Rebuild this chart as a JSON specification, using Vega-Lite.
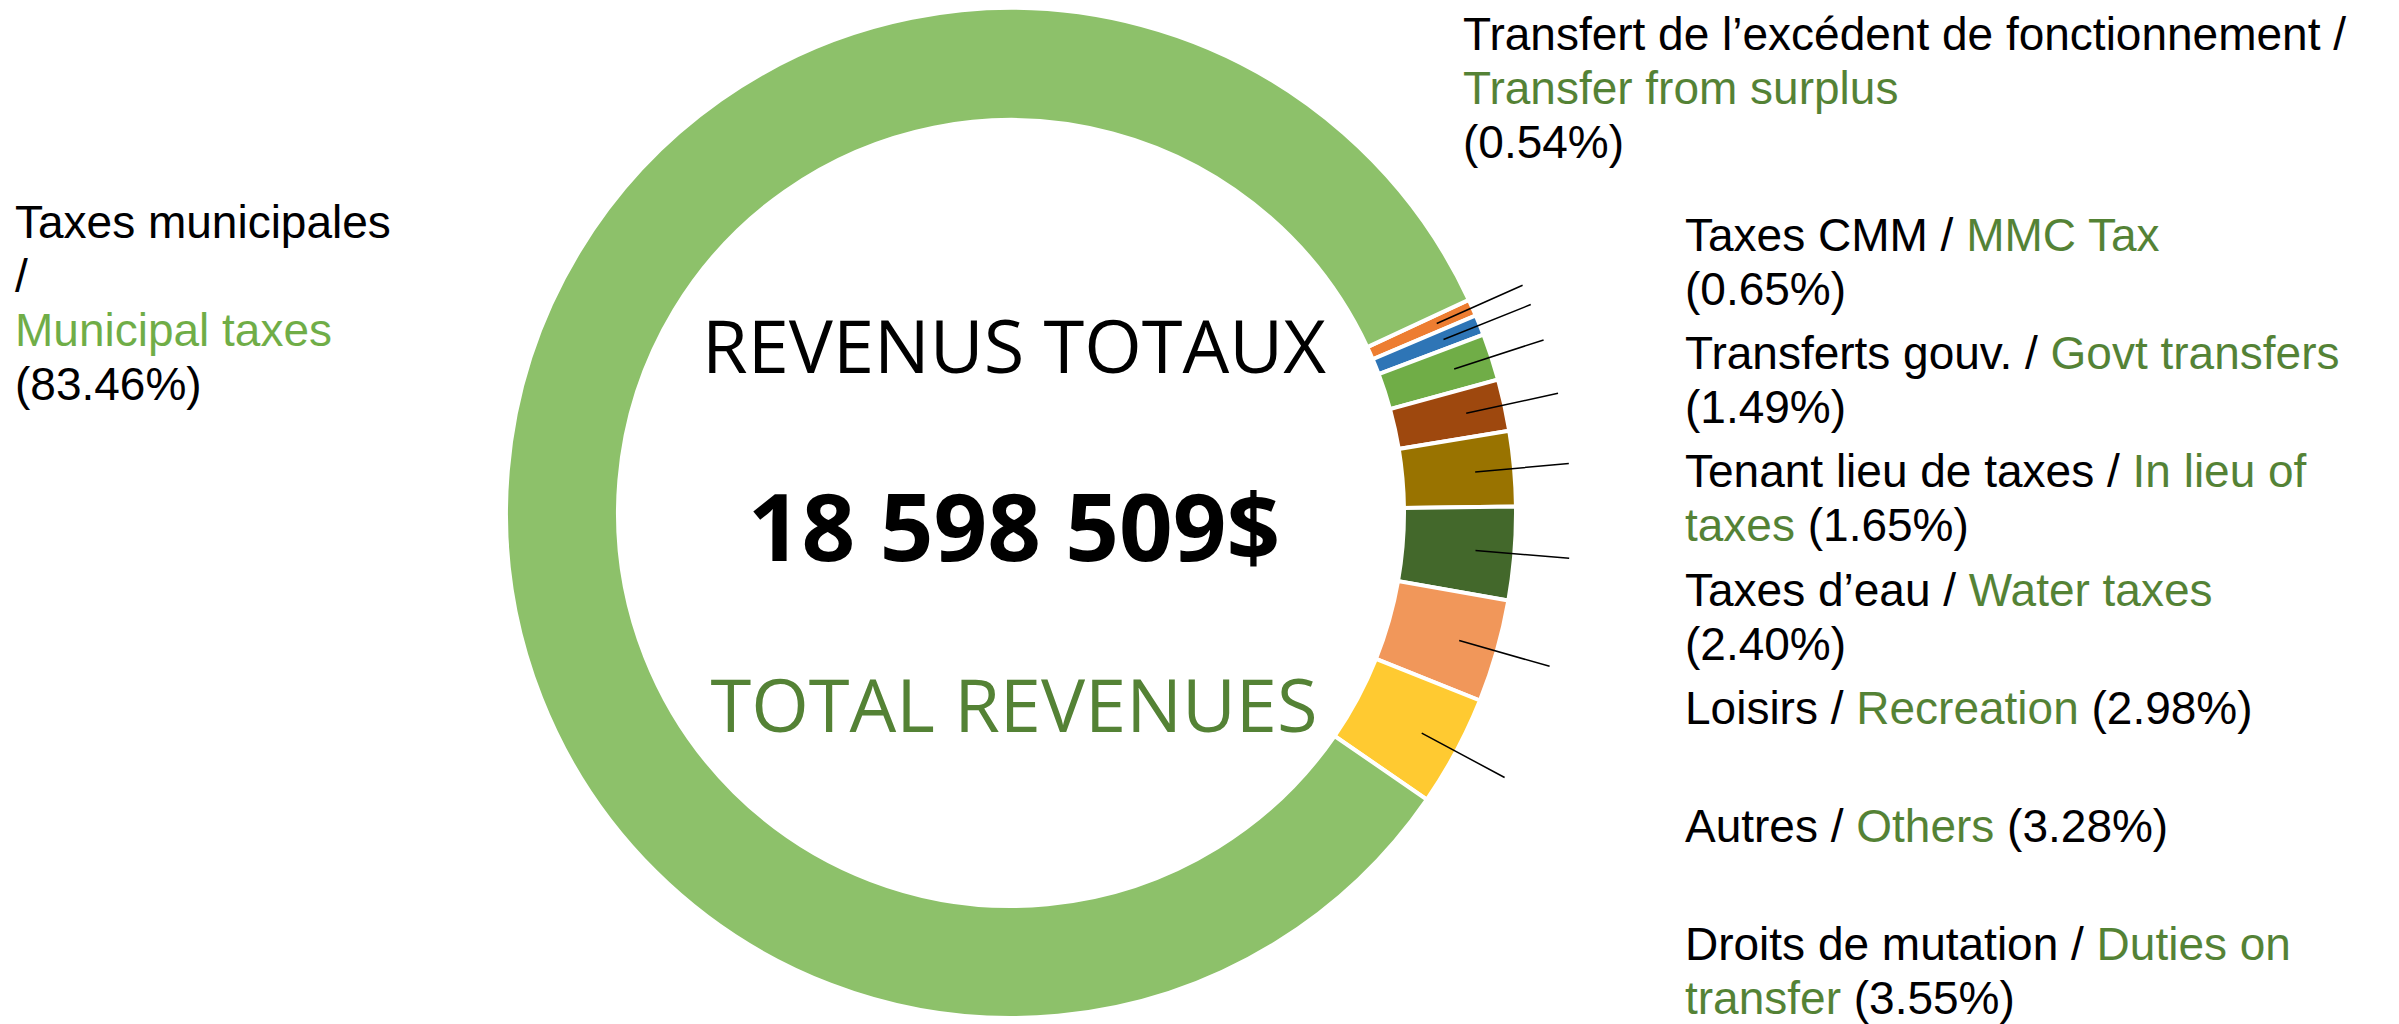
{
  "$schema": "https://vega.github.io/schema/vega-lite/v6.json",
  "width": 2022,
  "height": 1016,
  "padding": 0,
  "background": "white",
  "config": {
    "view": {"stroke": null},
    "text": {"font": "Liberation Sans", "fontSize": 46, "lineHeight": 54, "align": "left", "baseline": "alphabetic"},
    "locale": {"number": {"decimal": ",", "thousands": "\u00a0", "grouping": [3], "currency": ["", "$"]}}
  },
  "datasets": {
    "revenus": [
      {"cat": "Transfert de l’excédent de fonctionnement", "pct": 0.54, "order": 1, "lines": ["Transfert de l’excédent de fonctionnement /", "Transfer from surplus", "(0.54%)"]},
      {"cat": "Taxes CMM", "pct": 0.65, "order": 2, "lines": ["Taxes CMM / MMC Tax", "(0.65%)"]},
      {"cat": "Transferts gouv.", "pct": 1.49, "order": 3, "lines": ["Transferts gouv. / Govt transfers", "(1.49%)"]},
      {"cat": "Tenant lieu de taxes", "pct": 1.65, "order": 4, "lines": ["Tenant lieu de taxes / In lieu of", "taxes (1.65%)"]},
      {"cat": "Taxes d’eau", "pct": 2.40, "order": 5, "lines": ["Taxes d’eau / Water taxes", "(2.40%)"]},
      {"cat": "Loisirs", "pct": 2.98, "order": 6, "lines": ["Loisirs / Recreation (2.98%)"]},
      {"cat": "Autres", "pct": 3.28, "order": 7, "lines": ["Autres / Others (3.28%)"]},
      {"cat": "Droits de mutation", "pct": 3.55, "order": 8, "lines": ["Droits de mutation / Duties on", "transfer (3.55%)"]},
      {"cat": "Taxes municipales", "pct": 83.46, "order": 9, "lines": ["Taxes municipales", "/", "Municipal taxes", "(83.46%)"]}
    ],
    "total": [
      {"fr": "REVENUS TOTAUX", "en": "TOTAL REVENUES", "amount": 18598509}
    ]
  },
  "data": {"name": "revenus"},
  "layer": [
    {
      "mark": {"type": "arc", "outerRadius": 505, "innerRadius": 393, "stroke": "#ffffff", "strokeWidth": 4},
      "encoding": {
        "theta": {"field": "pct", "type": "quantitative", "stack": true, "scale": {"range": [1.135, 7.4182]}},
        "order": {"field": "order", "type": "quantitative"},
        "color": {
          "field": "cat", "type": "nominal", "legend": null,
          "scale": {
            "domain": ["Transfert de l’excédent de fonctionnement", "Taxes CMM", "Transferts gouv.", "Tenant lieu de taxes", "Taxes d’eau", "Loisirs", "Autres", "Droits de mutation", "Taxes municipales"],
            "range": ["#ED7D31", "#2E75B6", "#70AD47", "#9E480E", "#997300", "#43682B", "#F1975A", "#FFCA31", "#8DC16A"]
          }
        }
      }
    },
    {
      "mark": {"type": "arc", "outerRadius": 560, "innerRadius": 466, "padAngle": 3.1416, "fillOpacity": 0, "stroke": "#000000", "strokeWidth": 1.5},
      "encoding": {
        "theta": {"field": "pct", "type": "quantitative", "stack": true},
        "order": {"field": "order", "type": "quantitative"},
        "strokeOpacity": {"condition": {"test": "datum.order === 9", "value": 0}, "value": 1}
      }
    },
    {
      "data": {"name": "total"},
      "mark": {"type": "text", "align": "center", "dx": 3, "dy": -140, "font": "Open Sans", "fontSize": 74, "fill": "#000000"},
      "encoding": {"text": {"field": "fr", "type": "nominal"}}
    },
    {
      "data": {"name": "total"},
      "mark": {"type": "text", "align": "center", "dx": 3, "dy": 48, "font": "Open Sans", "fontSize": 94, "fontWeight": "bold", "fill": "#000000"},
      "encoding": {"text": {"field": "amount", "type": "quantitative", "format": "$,.0f"}}
    },
    {
      "data": {"name": "total"},
      "mark": {"type": "text", "align": "center", "dx": 3, "dy": 219, "font": "Open Sans", "fontSize": 74, "fill": "#548235"},
      "encoding": {"text": {"field": "en", "type": "nominal"}}
    },
    {
      "transform": [{"filter": {"field": "order", "equal": 9}}],
      "mark": {"type": "text", "dx": -996, "dy": -275,
        "fill": {"gradient": "linear", "x1": 0, "y1": 0, "x2": 0, "y2": 1, "stops": [
          {"offset": 0, "color": "#000000"}, {"offset": 0.498, "color": "#000000"},
          {"offset": 0.498, "color": "#70AD47"}, {"offset": 0.772, "color": "#70AD47"},
          {"offset": 0.772, "color": "#000000"}, {"offset": 1, "color": "#000000"}]}},
      "encoding": {"text": {"field": "lines", "type": "nominal"}}
    },
    {
      "transform": [{"filter": {"field": "order", "equal": 1}}],
      "mark": {"type": "text", "dx": 452, "dy": -463,
        "fill": {"gradient": "linear", "x1": 0, "y1": 0, "x2": 0, "y2": 1, "stops": [
          {"offset": 0, "color": "#000000"}, {"offset": 0.328, "color": "#000000"},
          {"offset": 0.328, "color": "#548235"}, {"offset": 0.695, "color": "#548235"},
          {"offset": 0.695, "color": "#000000"}, {"offset": 1, "color": "#000000"}]}},
      "encoding": {"text": {"field": "lines", "type": "nominal"}}
    },
    {
      "encoding": {
        "y": {"field": "cat", "type": "nominal", "axis": null,
          "scale": {"type": "point", "padding": 0, "range": [246, 955],
            "domain": ["Taxes CMM", "Transferts gouv.", "Tenant lieu de taxes", "Taxes d’eau", "Loisirs", "Autres", "Droits de mutation"]}}
      },
      "layer": [
        {
          "transform": [{"filter": {"field": "order", "equal": 2}}],
          "mark": {"type": "text", "dx": 674,
            "fill": {"gradient": "linear", "x1": 0, "y1": 0, "x2": 1, "y2": 0, "stops": [
              {"offset": 0, "color": "#000000"}, {"offset": 0.577, "color": "#000000"},
              {"offset": 0.577, "color": "#548235"}, {"offset": 1, "color": "#548235"}]}},
          "encoding": {"text": {"field": "lines", "type": "nominal"}}
        },
        {
          "transform": [{"filter": {"field": "order", "equal": 3}}],
          "mark": {"type": "text", "dx": 674,
            "fill": {"gradient": "linear", "x1": 0, "y1": 0, "x2": 1, "y2": 0, "stops": [
              {"offset": 0, "color": "#000000"}, {"offset": 0.5506, "color": "#000000"},
              {"offset": 0.5506, "color": "#548235"}, {"offset": 1, "color": "#548235"}]}},
          "encoding": {"text": {"field": "lines", "type": "nominal"}}
        },
        {
          "transform": [{"filter": {"field": "order", "equal": 4}}],
          "mark": {"type": "text", "dx": 674,
            "fill": {"gradient": "linear", "x1": 0, "y1": 0, "x2": 1, "y2": 0, "stops": [
              {"offset": 0, "color": "#000000"}, {"offset": 0.7115, "color": "#000000"},
              {"offset": 0.7115, "color": "#548235"}, {"offset": 1, "color": "#548235"}]}},
          "encoding": {"text": {"field": "lines[0]", "type": "nominal"}}
        },
        {
          "transform": [{"filter": {"field": "order", "equal": 4}}],
          "mark": {"type": "text", "dx": 674, "dy": 54,
            "fill": {"gradient": "linear", "x1": 0, "y1": 0, "x2": 1, "y2": 0, "stops": [
              {"offset": 0, "color": "#548235"}, {"offset": 0.41, "color": "#548235"},
              {"offset": 0.41, "color": "#000000"}, {"offset": 1, "color": "#000000"}]}},
          "encoding": {"text": {"field": "lines[1]", "type": "nominal"}}
        },
        {
          "transform": [{"filter": {"field": "order", "equal": 5}}],
          "mark": {"type": "text", "dx": 674,
            "fill": {"gradient": "linear", "x1": 0, "y1": 0, "x2": 1, "y2": 0, "stops": [
              {"offset": 0, "color": "#000000"}, {"offset": 0.528, "color": "#000000"},
              {"offset": 0.528, "color": "#548235"}, {"offset": 1, "color": "#548235"}]}},
          "encoding": {"text": {"field": "lines", "type": "nominal"}}
        },
        {
          "transform": [{"filter": {"field": "order", "equal": 6}}],
          "mark": {"type": "text", "dx": 674,
            "fill": {"gradient": "linear", "x1": 0, "y1": 0, "x2": 1, "y2": 0, "stops": [
              {"offset": 0, "color": "#000000"}, {"offset": 0.2905, "color": "#000000"},
              {"offset": 0.2905, "color": "#548235"}, {"offset": 0.7049, "color": "#548235"},
              {"offset": 0.7049, "color": "#000000"}, {"offset": 1, "color": "#000000"}]}},
          "encoding": {"text": {"field": "lines", "type": "nominal"}}
        },
        {
          "transform": [{"filter": {"field": "order", "equal": 7}}],
          "mark": {"type": "text", "dx": 674,
            "fill": {"gradient": "linear", "x1": 0, "y1": 0, "x2": 1, "y2": 0, "stops": [
              {"offset": 0, "color": "#000000"}, {"offset": 0.3413, "color": "#000000"},
              {"offset": 0.3413, "color": "#548235"}, {"offset": 0.6535, "color": "#548235"},
              {"offset": 0.6535, "color": "#000000"}, {"offset": 1, "color": "#000000"}]}},
          "encoding": {"text": {"field": "lines", "type": "nominal"}}
        },
        {
          "transform": [{"filter": {"field": "order", "equal": 8}}],
          "mark": {"type": "text", "dx": 674,
            "fill": {"gradient": "linear", "x1": 0, "y1": 0, "x2": 1, "y2": 0, "stops": [
              {"offset": 0, "color": "#000000"}, {"offset": 0.6688, "color": "#000000"},
              {"offset": 0.6688, "color": "#548235"}, {"offset": 1, "color": "#548235"}]}},
          "encoding": {"text": {"field": "lines[0]", "type": "nominal"}}
        },
        {
          "transform": [{"filter": {"field": "order", "equal": 8}}],
          "mark": {"type": "text", "dx": 674, "dy": 54,
            "fill": {"gradient": "linear", "x1": 0, "y1": 0, "x2": 1, "y2": 0, "stops": [
              {"offset": 0, "color": "#548235"}, {"offset": 0.4923, "color": "#548235"},
              {"offset": 0.4923, "color": "#000000"}, {"offset": 1, "color": "#000000"}]}},
          "encoding": {"text": {"field": "lines[1]", "type": "nominal"}}
        }
      ]
    }
  ]
}
